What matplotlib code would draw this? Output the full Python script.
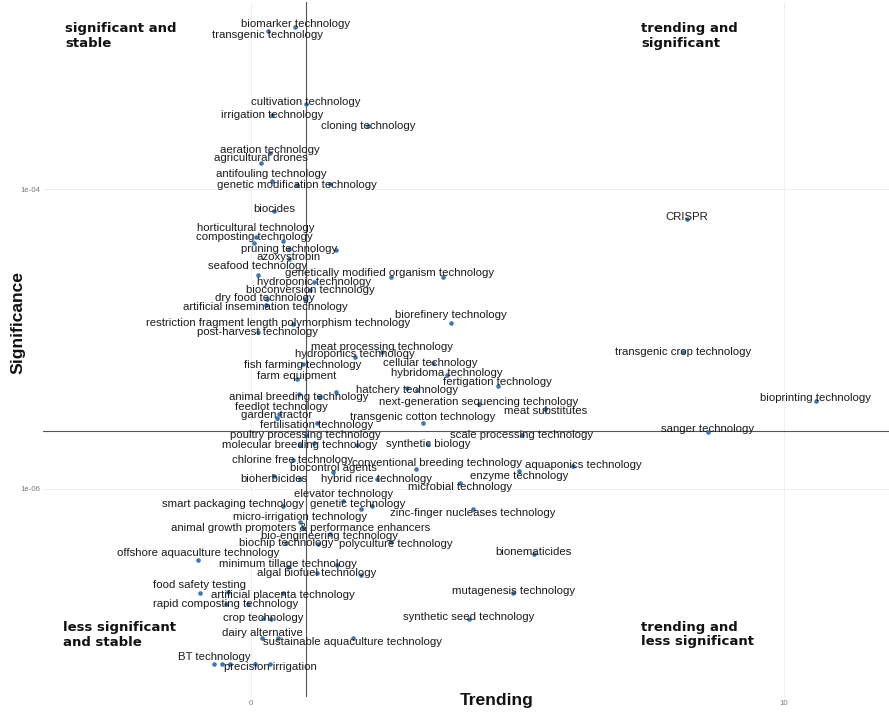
import numpy as np
import matplotlib
matplotlib.use("Agg")
import matplotlib.pyplot as plt

# Technology terms: trend score (x) and significance (y, log scale)
labels = [
    "biomarker technology", "transgenic technology", "cultivation technology",
    "irrigation technology", "cloning technology", "aeration technology",
    "agricultural drones", "antifouling technology", "genetic modification technology",
    "biocides", "horticultural technology", "composting technology",
    "pruning technology", "azoxystrobin", "seafood technology",
    "genetically modified organism technology", "hydroponic technology",
    "bioconversion technology", "dry food technology",
    "artificial insemination technology",
    "restriction fragment length polymorphism technology", "biorefinery technology",
    "post-harvest technology", "meat processing technology", "hydroponics technology",
    "fish farming technology", "cellular technology", "hybridoma technology",
    "farm equipment", "fertigation technology", "hatchery technology",
    "animal breeding technology", "next-generation sequencing technology",
    "meat substitutes", "feedlot technology", "garden tractor",
    "transgenic cotton technology", "fertilisation technology", "sanger technology",
    "poultry processing technology", "scale processing technology",
    "molecular breeding technology", "synthetic biology", "chlorine free technology",
    "conventional breeding technology", "aquaponics technology", "biocontrol agents",
    "enzyme technology", "bioherbicides", "hybrid rice technology",
    "microbial technology", "elevator technology", "smart packaging technology",
    "genetic technology", "zinc-finger nucleases technology",
    "micro-irrigation technology", "animal growth promoters & performance enhancers",
    "bio-engineering technology", "biochip technology", "polyculture technology",
    "offshore aquaculture technology", "bionematicides", "minimum tillage technology",
    "algal biofuel technology", "food safety testing", "artificial placenta technology",
    "mutagenesis technology", "rapid composting technology", "crop technology",
    "synthetic seed technology", "dairy alternative",
    "sustainable aquaculture technology", "BT technology", "precision irrigation",
    "CRISPR", "transgenic crop technology", "bioprinting technology",
]

trending = [
    0.83, 0.32, 1.03, 0.39, 2.20, 0.36, 0.19, 0.39, 0.86, 0.43,
    0.09, 0.06, 0.71, 0.71, 0.13, 2.63, 1.18, 1.11, 0.30, 0.28,
    0.79, 3.75, 0.13, 2.46, 1.95, 0.98, 3.41, 3.68, 0.86, 4.63,
    2.93, 0.90, 4.28, 5.52, 0.53, 0.49, 3.23, 1.24, 8.57, 1.03,
    5.08, 0.92, 3.32, 0.79, 3.10, 6.04, 1.54, 5.03, 0.43, 2.36,
    3.92, 1.73, 0.60, 2.06, 4.17, 0.92, 0.98, 1.48, 0.66, 2.63,
    -0.99, 5.31, 0.69, 1.24, -0.96, 0.60, 4.92, -0.47, 0.23, 4.09,
    0.21, 1.91, -0.69, 0.36, 8.18, 8.11, 10.60,
]

significance = [
    1.20e-3, 1.13e-3, 3.69e-4, 3.11e-4, 2.63e-4, 1.74e-4, 1.49e-4, 1.13e-4, 1.06e-4, 7.13e-5,
    4.79e-5, 4.37e-5, 3.98e-5, 3.41e-5, 2.67e-5, 2.59e-5, 2.40e-5, 2.12e-5, 1.85e-5, 1.69e-5,
    1.26e-5, 1.28e-5, 1.11e-5, 8.19e-6, 7.59e-6, 6.81e-6, 6.92e-6, 5.75e-6, 5.41e-6, 4.86e-6,
    4.71e-6, 4.30e-6, 3.69e-6, 3.41e-6, 3.16e-6, 2.97e-6, 2.75e-6, 2.75e-6, 2.40e-6, 2.29e-6,
    2.29e-6, 1.96e-6, 2.00e-6, 1.56e-6, 1.36e-6, 1.42e-6, 1.30e-6, 1.32e-6, 1.22e-6, 1.17e-6,
    1.10e-6, 8.32e-7, 7.71e-7, 7.36e-7, 7.36e-7, 6.03e-7, 5.50e-7, 5.01e-7, 4.37e-7, 4.44e-7,
    3.37e-7, 3.69e-7, 3.02e-7, 2.75e-7, 2.03e-7, 2.03e-7, 2.03e-7, 1.71e-7, 1.38e-7, 1.36e-7,
    1.02e-7, 1.02e-7, 6.81e-8, 6.81e-8, 6.31e-5, 8.19e-6, 3.86e-6,
]

# Terms whose labels were dropped because of overlaps
unlabeled_trending = [
    1.48, 0.60, 1.59, 3.60, 1.01, 3.11, 1.59, 1.29, 1.18, 1.99, 0.92,
    2.27, 1.26, 1.61, 2.06, -0.43, -0.06, 0.38, 0.51, -0.54, -0.39, 0.08,
]
unlabeled_significance = [
    1.08e-4, 4.50e-5, 3.92e-5, 2.59e-5, 1.85e-5, 4.57e-6, 4.44e-6, 4.10e-6, 2.03e-6, 1.96e-6, 1.17e-6,
    7.71e-7, 4.30e-7, 3.11e-7, 2.67e-7, 2.06e-7, 1.71e-7, 1.36e-7, 1.02e-7, 6.81e-8, 6.81e-8, 6.81e-8,
]

# Quadrant split values
trend_cut = 1.03
signif_cut = 2.44e-6

# Label nudges (pixels, right / down) so text does not sit on top of its neighbours
nudges = {
    "biomarker technology": (0, -3), "transgenic technology": (0, 4),
    "aeration technology": (0, -3), "agricultural drones": (0, -5),
    "antifouling technology": (0, -7), "horticultural technology": (0, -9),
    "composting technology": (0, -6), "seafood technology": (0, -9),
    "genetically modified organism technology": (-2, -4),
    "restriction fragment length polymorphism technology": (-15, -1),
    "artificial insemination technology": (0, 2), "dry food technology": (-2, -1),
    "biorefinery technology": (0, -8), "meat processing technology": (0, -5),
    "hydroponics technology": (0, -3), "farm equipment": (0, -3),
    "fish farming technology": (0, 1), "cellular technology": (-2, 0),
    "fertigation technology": (0, -4), "hatchery technology": (0, 2),
    "animal breeding technology": (0, 3), "meat substitutes": (0, 2),
    "feedlot technology": (2, -7), "garden tractor": (0, -3),
    "transgenic cotton technology": (0, -6), "fertilisation technology": (0, 2),
    "sanger technology": (0, -3), "conventional breeding technology": (21, -6),
    "aquaponics technology": (10, -1), "biocontrol agents": (0, -4),
    "enzyme technology": (0, 5), "bioherbicides": (0, 3), "microbial technology": (0, 4),
    "elevator technology": (0, -7), "smart packaging technology": (-50, -2),
    "genetic technology": (-3, -5), "zinc-finger nucleases technology": (0, 4),
    "micro-irrigation technology": (0, -5), "animal growth promoters & performance enhancers": (-3, 0),
    "bio-engineering technology": (0, 2), "polyculture technology": (5, 2),
    "offshore aquaculture technology": (0, -7), "minimum tillage technology": (0, -3),
    "food safety testing": (0, -8), "artificial placenta technology": (0, 2),
    "dairy alternative": (0, -5), "sustainable aquaculture technology": (0, 4),
    "BT technology": (0, -7), "precision irrigation": (0, 3),
    "bioprinting technology": (0, -3), "biocides": (0, -2), "cultivation technology": (0, -2),
    "mutagenesis technology": (0, -2), "synthetic seed technology": (0, -2),
    "bionematicides": (0, -2), "CRISPR": (0, -2), "hybridoma technology": (0, -2),
    "next-generation sequencing technology": (0, -2), "azoxystrobin": (0, -2),
}

W, H, DPI = 889, 713, 100
fig = plt.figure(figsize=(W / DPI, H / DPI), dpi=DPI)
fig.patch.set_facecolor("white")

left_px, right_px, top_px, bottom_px = 43, 889, 2, 697
ax = fig.add_axes([left_px / W, 1 - bottom_px / H,
                   (right_px - left_px) / W, (bottom_px - top_px) / H])
ax.set_facecolor("white")
ax.set_yscale("log")
ax.set_xlim(-3.90, 11.97)
ax.set_ylim(10 ** -7.387, 10 ** -2.753)

ax.set_xticks([0, 10])
ax.set_xticklabels(["0", "10"])
ax.set_yticks([1e-4, 1e-6])
ax.set_yticklabels(["1e-04", "1e-06"])
ax.yaxis.set_minor_locator(matplotlib.ticker.NullLocator())
ax.tick_params(length=0, labelsize=5.6, labelcolor="#7a7a7a", pad=2)
for lab in ax.get_xticklabels() + ax.get_yticklabels():
    lab.set_family("Liberation Sans")
ax.grid(True, color="#ededed", linewidth=0.6)
ax.set_axisbelow(True)
for s in ax.spines.values():
    s.set_visible(False)

ax.axvline(trend_cut, color="#555555", linewidth=0.8, zorder=1)
ax.axhline(signif_cut, color="#555555", linewidth=0.8, zorder=1)

point_color = "#3b78b8"
ax.scatter(unlabeled_trending, unlabeled_significance, s=11, color=point_color,
           linewidths=0, zorder=3)
ax.scatter(trending, significance, s=11, color=point_color, linewidths=0, zorder=3)

for name, x, y in zip(labels, trending, significance):
    dx, dy = nudges.get(name, (0, 0))
    ax.annotate(name, (x, y), xytext=(dx, -dy), textcoords="offset pixels",
                ha="center", va="center", fontsize=8.2, color="#1a1a1a",
                family="Liberation Sans", zorder=4)

# Quadrant captions
qkw = dict(transform=ax.transAxes, fontsize=9.5, fontweight="bold", color="#111111",
           family="DejaVu Sans", ha="left", va="center", linespacing=1.2)
ax.text((65 - left_px) / 846, (bottom_px - 36) / 695, "significant and\nstable", **qkw)
ax.text((641 - left_px) / 846, (bottom_px - 36) / 695, "trending and\nsignificant", **qkw)
ax.text((63 - left_px) / 846, (bottom_px - 634.5) / 695, "less significant\nand stable", **qkw)
ax.text((641 - left_px) / 846, (bottom_px - 634.5) / 695, "trending and\nless significant", **qkw)

fig.text(497 / W, 1 - 700 / H, "Trending", ha="center", va="center",
         fontsize=12.6, fontweight="bold", family="Liberation Sans", color="#111111")
fig.text(18 / W, 1 - 322 / H, "Significance", ha="center", va="center", rotation=90,
         fontsize=12.6, fontweight="bold", family="Liberation Sans", color="#111111")

fig.savefig("out.png", dpi=DPI, facecolor="white")
